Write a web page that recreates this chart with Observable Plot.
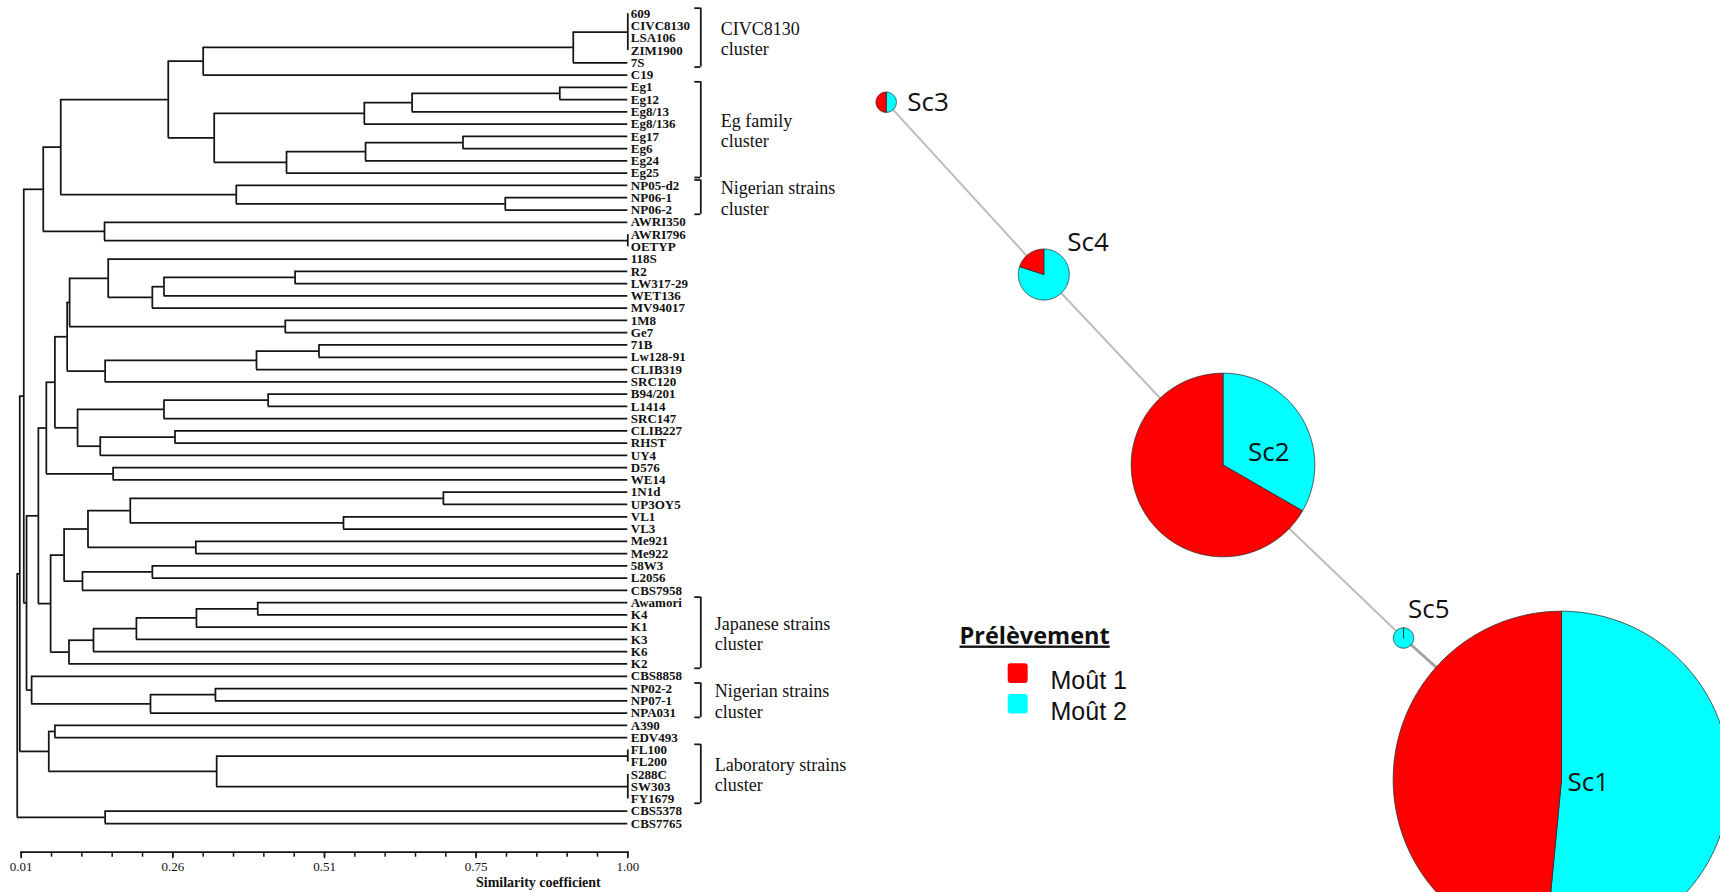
<!DOCTYPE html>
<html>
<head>
<meta charset="utf-8">
<script src="https://cdn.jsdelivr.net/npm/d3@7"></script>
<script src="https://cdn.jsdelivr.net/npm/@observablehq/plot@0.6"></script>
<style>
  html, body { margin: 0; padding: 0; background: #fff; overflow: hidden; }
  #wrap { position: relative; width: 1720px; height: 892px; overflow: hidden; }
  #left, #right { position: absolute; top: 0; width: 860px; height: 892px; }
  #left { left: 0; }
  #right { left: 860px; }
  #wrap svg { max-width: none !important; }
</style>
</head>
<body>
<div id="wrap"><div id="left"></div><div id="right"></div></div>
<script>
// ---------------- Dendrogram data ----------------
const leaves = [
  "609","CIVC8130","LSA106","ZIM1900","7S","C19",
  "Eg1","Eg12","Eg8/13","Eg8/136","Eg17","Eg6","Eg24","Eg25",
  "NP05-d2","NP06-1","NP06-2","AWRI350","AWRI796","OETYP",
  "118S","R2","LW317-29","WET136","MV94017","1M8","Ge7",
  "71B","Lw128-91","CLIB319","SRC120","B94/201","L1414","SRC147",
  "CLIB227","RHST","UY4","D576","WE14","1N1d","UP3OY5","VL1","VL3",
  "Me921","Me922","58W3","L2056","CBS7958","Awamori","K4","K1","K3",
  "K6","K2","CBS8858","NP02-2","NP07-1","NPA031","A390","EDV493",
  "FL100","FL200","S288C","SW303","FY1679","CBS5378","CBS7765"
];

// [node id, children, similarity coefficient]
const merges = [
  ["civc4", ["609","CIVC8130","LSA106","ZIM1900"], 1.00],
  ["civc", ["civc4","7S"], 0.911],
  ["civcC19", ["civc","C19"], 0.307],
  ["eg12", ["Eg1","Eg12"], 0.889],
  ["eg813", ["eg12","Eg8/13"], 0.648],
  ["eg8136", ["eg813","Eg8/136"], 0.570],
  ["eg176", ["Eg17","Eg6"], 0.731],
  ["eg24", ["eg176","Eg24"], 0.572],
  ["eg25", ["eg24","Eg25"], 0.443],
  ["eg", ["eg8136","eg25"], 0.325],
  ["ce", ["civcC19","eg"], 0.250],
  ["np06", ["NP06-1","NP06-2"], 0.800],
  ["nigA", ["NP05-d2","np06"], 0.361],
  ["t", ["ce","nigA"], 0.0745],
  ["awri2", ["AWRI796","OETYP"], 1.00],
  ["awri", ["AWRI350","awri2"], 0.146],
  ["a", ["t","awri"], 0.046],
  ["r2lw", ["R2","LW317-29"], 0.457],
  ["wet", ["r2lw","WET136"], 0.243],
  ["mv", ["wet","MV94017"], 0.224],
  ["s118", ["118S","mv"], 0.152],
  ["ge7", ["1M8","Ge7"], 0.441],
  ["n69", ["s118","ge7"], 0.089],
  ["b71", ["71B","Lw128-91"], 0.496],
  ["clib319", ["b71","CLIB319"], 0.394],
  ["src120", ["clib319","SRC120"], 0.147],
  ["n66", ["n69","src120"], 0.085],
  ["b94", ["B94/201","L1414"], 0.413],
  ["src147", ["b94","SRC147"], 0.243],
  ["rhst", ["CLIB227","RHST"], 0.261],
  ["uy4", ["rhst","UY4"], 0.139],
  ["n77", ["src147","uy4"], 0.102],
  ["n54", ["n66","n77"], 0.065],
  ["we14", ["D576","WE14"], 0.160],
  ["n45", ["n54","we14"], 0.051],
  ["up", ["1N1d","UP3OY5"], 0.699],
  ["vl", ["VL1","VL3"], 0.536],
  ["vlg", ["up","vl"], 0.188],
  ["me", ["Me921","Me922"], 0.295],
  ["n87", ["vlg","me"], 0.119],
  ["l2056", ["58W3","L2056"], 0.224],
  ["cbs7958", ["l2056","CBS7958"], 0.110],
  ["n63", ["n87","cbs7958"], 0.080],
  ["k4", ["Awamori","K4"], 0.396],
  ["k1", ["k4","K1"], 0.296],
  ["k3", ["k1","K3"], 0.198],
  ["k6", ["k3","K6"], 0.128],
  ["jap", ["k6","K2"], 0.088],
  ["n50", ["n63","jap"], 0.058],
  ["n37", ["n45","n50"], 0.038],
  ["np07", ["NP02-2","NP07-1"], 0.327],
  ["nigB", ["np07","NPA031"], 0.221],
  ["cbs8858", ["CBS8858","nigB"], 0.027],
  ["b", ["n37","cbs8858"], 0.0187],
  ["c", ["a","b"], 0.0142],
  ["edv", ["A390","EDV493"], 0.065],
  ["fl", ["FL100","FL200"], 1.00],
  ["s288", ["S288C","SW303","FY1679"], 1.00],
  ["flS", ["fl","s288"], 0.329],
  ["lab", ["edv","flS"], 0.055],
  ["d", ["c","lab"], 0.0077],
  ["cbsPair", ["CBS5378","CBS7765"], 0.147],
  ["root", ["d","cbsPair"], 0.0035]
];

const tickValues = d3.range(21).map(k => 0.01 + k * 0.0495);
const majorTicks = [0.01, 0.2575, 0.505, 0.7525, 1.00];
const majorLabels = ["0.01", "0.26", "0.51", "0.75", "1.00"];
const axisTitle = "Similarity coefficient";

const clusterLabels = [
  "CIVC8130\ncluster", "Eg family\ncluster", "Nigerian strains\ncluster",
  "Japanese strains\ncluster", "Nigerian strains\ncluster", "Laboratory strains\ncluster"
];
const clusterFirst = ["609", "Eg1", "NP05-d2", "Awamori", "NP02-2", "FL100"];
const clusterLast  = ["7S", "Eg25", "NP06-2", "K2", "NPA031", "FY1679"];

// ---------------- Network data ----------------
const haplotypes = ["Sc1", "Sc2", "Sc3", "Sc4", "Sc5"];
const mout1 = [16, 12, 1, 1, 0];
const mout2 = [17, 6, 1, 4, 2];
const layoutX = [1561, 1222.5, 885.7, 1043.3, 1403];   // network layout coordinates
const layoutY = [779, 464.5, 101.7, 274, 637.5];
const links = [["Sc3", "Sc4"], ["Sc4", "Sc2"], ["Sc2", "Sc5"], ["Sc5", "Sc1"]];
const samples = ["Moût 1", "Moût 2"];
const sampleColors = ["#ff0000", "#00ffff"];
const legendTitle = "Prélèvement";

// ---------------- Build dendrogram geometry ----------------
const nodes = new Map();
leaves.forEach((d, i) => nodes.set(d, {id: d, y: i, sim: 1.0}));
const vlines = [], hlines = [];
for (const [id, children, sim] of merges) {
  const ch = children.map(c => nodes.get(c));
  const ys = ch.map(c => c.y);
  const lo = d3.min(ys), hi = d3.max(ys);
  nodes.set(id, {id, y: (lo + hi) / 2, sim});
  vlines.push({sim, y1: lo, y2: hi});
  for (const c of ch) hlines.push({y: c.y, x1: sim, x2: c.sim});
}
const idx = new Map(leaves.map((d, i) => [d, i]));
const clusters = clusterLabels.map((label, i) => ({
  label, a: idx.get(clusterFirst[i]) - 0.45, b: idx.get(clusterLast[i]) + 0.35,
  mid: (idx.get(clusterFirst[i]) + idx.get(clusterLast[i])) / 2, top: i < 3
}));

const XR = [20.7, 627.3];
const pxPerSim = (XR[1] - XR[0]) / 0.99;
const bracketX = 1 + 73 / pxPerSim;
const bracketTickX = 1 + 67 / pxPerSim;
const lineColor = "#141414";
const lw = 1.75;

const left = Plot.plot({
  width: 860, height: 892,
  marginTop: 0, marginLeft: XR[0], marginRight: 860 - XR[1], marginBottom: 40.3,
  x: {domain: [0.01, 1.00], range: XR},
  y: {domain: [0, leaves.length - 1], range: [13.2, 823], axis: null},
  style: {background: "white", fontFamily: "'Liberation Serif', serif", fontSize: "13px", color: "#111"},
  marks: [
    Plot.ruleX(vlines, {x: "sim", y1: "y1", y2: "y2", stroke: lineColor, strokeWidth: lw}),
    Plot.ruleY(hlines, {y: "y", x1: "x1", x2: "x2", stroke: lineColor, strokeWidth: lw}),
    Plot.text(leaves, {x: () => 1, y: (d, i) => i, text: d => d, textAnchor: "start", dx: 3,
      fontWeight: "bold", fontSize: 13, fill: "#111", fontFamily: "'Liberation Serif', serif"}),
    // cluster brackets
    Plot.ruleX(clusters, {x: () => bracketX, y1: "a", y2: "b", stroke: lineColor, strokeWidth: lw}),
    Plot.ruleY(clusters, {y: "a", x1: () => bracketTickX, x2: () => bracketX, stroke: lineColor, strokeWidth: lw}),
    Plot.ruleY(clusters, {y: "b", x1: () => bracketTickX, x2: () => bracketX, stroke: lineColor, strokeWidth: lw}),
    Plot.text(clusters.filter(d => d.top), {x: () => bracketX, y: "mid", text: "label", dx: 20, textAnchor: "start",
      fontSize: 18, lineHeight: 1.15, fill: "#111"}),
    Plot.text(clusters.filter(d => !d.top), {x: () => bracketX, y: "mid", text: "label", dx: 14, textAnchor: "start",
      fontSize: 18, lineHeight: 1.15, fill: "#111"}),
    // axis
    Plot.frame({anchor: "bottom", stroke: lineColor, strokeWidth: lw}),
    Plot.axisX({ticks: tickValues, tickSize: 5, tickFormat: () => "", label: null, strokeWidth: 1.5}),
    Plot.axisX({ticks: majorTicks, tickSize: 6.5, tickPadding: 3, label: null, strokeWidth: 1.5,
      tickFormat: d => majorLabels[majorTicks.findIndex(t => Math.abs(t - d) < 1e-6)],
      fontSize: 13, fill: "#111"}),
    Plot.text([axisTitle], {x: () => 0.854, frameAnchor: "bottom", dy: 35, text: d => d,
      fontWeight: "bold", fontSize: 14, fill: "#111"})
  ]
});
document.getElementById("left").append(left);

// ---------------- Build network geometry ----------------
const R_UNIT = 5.1;
const pos = new Map(haplotypes.map((h, i) => [h, {x: layoutX[i], y: layoutY[i], r: R_UNIT * (mout1[i] + mout2[i])}]));
const piePts = [];
haplotypes.forEach((h, i) => {
  const {x: cx, y: cy, r} = pos.get(h);
  const total = mout1[i] + mout2[i];
  const parts = [[samples[1], mout2[i]], [samples[0], mout1[i]]]; // clockwise from north
  let a0 = 0;
  parts.forEach(([s, c], k) => {
    if (!c) return;
    const a1 = a0 + c / total * 2 * Math.PI;
    const id = h + "-" + k;
    piePts.push({slice: id, sample: s, x: cx, y: cy});
    const n = Math.max(12, Math.ceil((a1 - a0) / (Math.PI / 360)));
    for (let j = 0; j <= n; j++) {
      const a = a0 + (a1 - a0) * j / n;
      piePts.push({slice: id, sample: s, x: cx + r * Math.sin(a), y: cy - r * Math.cos(a)});
    }
    piePts.push({slice: id, sample: s, x: cx, y: cy});
    a0 = a1;
  });
});
const linkData = links.map(([s, t], i) => ({
  x1: pos.get(s).x, y1: pos.get(s).y, x2: pos.get(t).x, y2: pos.get(t).y, last: i === links.length - 1
}));
const nodeData = haplotypes.map(h => ({name: h, ...pos.get(h)}));
const labelFont = {fontFamily: "'Open Sans', sans-serif", fontSize: 26, fill: "#111"};
const label = (name, dx, dy) => Plot.text(nodeData.filter(d => d.name === name),
  {x: "x", y: "y", text: "name", dx, dy, textAnchor: "start", ...labelFont});

const right = Plot.plot({
  width: 860, height: 892, margin: 0,
  x: {domain: [860, 1720], range: [0, 860], axis: null},
  y: {domain: [0, 892], range: [0, 892], axis: null},
  color: {domain: samples, range: sampleColors},
  style: {background: "white"},
  marks: [
    Plot.link(linkData.filter(d => !d.last), {x1: "x1", y1: "y1", x2: "x2", y2: "y2", stroke: "#bdbdbd", strokeWidth: 2}),
    Plot.link(linkData.filter(d => d.last), {x1: "x1", y1: "y1", x2: "x2", y2: "y2", stroke: "#a3a3a3", strokeWidth: 3}),
    Plot.line(piePts, {x: "x", y: "y", z: "slice", fill: "sample", stroke: "#2b2b2b", strokeWidth: 0.8, clip: true}),
    label("Sc3", 21, 0),
    label("Sc4", 23.5, -31.5),
    label("Sc2", 25, -12),
    label("Sc5", 4.5, -28),
    label("Sc1", 6, 3),
    // legend
    Plot.text([legendTitle], {x: () => 959, y: () => 635.5, text: d => d, textAnchor: "start",
      fontFamily: "'Open Sans', sans-serif", fontWeight: "bold", fontSize: 23.5, fill: "#111"}),
    Plot.rect(samples, {x1: () => 1007.7, x2: () => 1027.7, y1: (d, i) => 663.3 + i * 30.6, y2: (d, i) => 682.9 + i * 30.6,
      fill: d => d, rx: 3}),
    Plot.text(samples, {x: () => 1050, y: (d, i) => 680.5 + i * 30.6, text: d => d, textAnchor: "start",
      fontFamily: "'Liberation Sans', Arial, sans-serif", fontSize: 25, fill: "#111"})
  ]
});
document.getElementById("right").append(right);
right.querySelectorAll("text").forEach(t => {
  if (t.textContent === legendTitle) t.style.textDecoration = "underline";
});
</script>
</body>
</html>
